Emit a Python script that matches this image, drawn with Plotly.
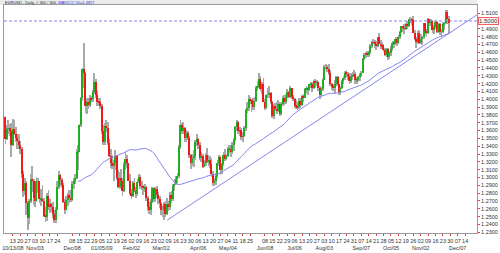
import numpy as np
import pandas as pd
import plotly.graph_objects as go

# ---------------- data (EURUSD daily, 300 bars) ----------------
START_DATE = "2008-10-06"

opens = [
 1.3770,1.3490,1.3620,1.3630,1.3590, 1.3410,1.3620,1.3550,1.3500,1.3470,
 1.3420,1.3370,1.3040,1.2830,1.2930, 1.2680,1.2480,1.2700,1.2970,1.2950,
 1.2740,1.2700,1.2950,1.2950,1.2720, 1.2730,1.2700,1.2510,1.2490,1.2760,
 1.2620,1.2660,1.2620,1.2530,1.2460, 1.2590,1.2880,1.3030,1.2970,1.2900,
 1.2690,1.2590,1.2710,1.2780,1.2740, 1.2710,1.2920,1.2960,1.2990,1.3320,
 1.3330,1.3670,1.4010,1.4380,1.4330, 1.3920,1.3970,1.3930,1.4010,1.4000,
 1.4090,1.4220,1.4060,1.3970,1.3960, 1.3920,1.3600,1.3450,1.3660,1.3630,
 1.3440,1.3280,1.3190,1.3150,1.3180, 1.3280,1.3000,1.2880,1.3000,1.2960,
 1.2830,1.3160,1.3240,1.3180,1.2960, 1.2800,1.2770,1.2930,1.2830,1.2790,
 1.2940,1.3010,1.2890,1.2880,1.2860, 1.2880,1.2740,1.2620,1.2590,1.2690,
 1.2860,1.2720,1.2850,1.2780,1.2730, 1.2670,1.2580,1.2580,1.2660,1.2530,
 1.2660,1.2620,1.2780,1.2730,1.2890, 1.2920,1.2980,1.3020,1.3390,1.3670,
 1.3590,1.3630,1.3500,1.3570,1.3510, 1.3290,1.3180,1.3250,1.3280,1.3460,
 1.3490,1.3410,1.3250,1.3280,1.3140, 1.3180,1.3290,1.3200,1.3230,1.3170,
 1.3040,1.2930,1.2950,1.3020,1.3190, 1.3260,1.3090,1.3170,1.3290,1.3240,
 1.3280,1.3360,1.3370,1.3320,1.3410, 1.3480,1.3640,1.3710,1.3590,1.3610,
 1.3520,1.3530,1.3630,1.3860,1.3890, 1.4000,1.3990,1.3940,1.3900,1.3980,
 1.4150,1.4160,1.4260,1.4130,1.4190, 1.3970,1.3890,1.4050,1.4050,1.4080,
 1.3970,1.3780,1.3910,1.3880,1.3850, 1.3940,1.3810,1.3940,1.4020,1.3970,
 1.4030,1.4090,1.4030,1.4140,1.4030, 1.4000,1.3920,1.3910,1.3900,1.3980,
 1.3930,1.4040,1.4020,1.4130,1.4140, 1.4120,1.4190,1.4200,1.4150,1.4230,
 1.4210,1.4220,1.4140,1.4060,1.4130, 1.4250,1.4410,1.4410,1.4390,1.4340,
 1.4190,1.4160,1.4140,1.4190,1.4290, 1.4190,1.4080,1.4150,1.4230,1.4270,
 1.4340,1.4320,1.4300,1.4230,1.4290, 1.4300,1.4320,1.4240,1.4250,1.4280,
 1.4310,1.4340,1.4520,1.4570,1.4580, 1.4570,1.4600,1.4680,1.4730,1.4720,
 1.4700,1.4680,1.4790,1.4710,1.4680, 1.4690,1.4630,1.4570,1.4640,1.4540,
 1.4590,1.4640,1.4720,1.4700,1.4770, 1.4720,1.4800,1.4860,1.4930,1.4910,
 1.4900,1.4960,1.4940,1.5020,1.5020, 1.5010,1.4850,1.4770,1.4730,1.4850,
 1.4720,1.4770,1.4800,1.4970,1.4870, 1.4850,1.5020,1.4970,1.5000,1.4880,
 1.4920,1.4990,1.4860,1.4960,1.4860, 1.4860,1.4960,1.4970,1.5120,1.5030,
]

highs = [
 1.3790,1.3670,1.3740,1.3690,1.3700, 1.3750,1.3740,1.3640,1.3560,1.3550,
 1.3470,1.3390,1.3080,1.2990,1.2960, 1.2700,1.2720,1.3040,1.3150,1.2980,
 1.2830,1.3010,1.3000,1.2960,1.2850, 1.2900,1.2740,1.2620,1.2800,1.2840,
 1.2730,1.2680,1.2690,1.2580,1.2620, 1.2950,1.3080,1.3040,1.3000,1.2930,
 1.2730,1.2760,1.2800,1.2840,1.2840, 1.2950,1.2990,1.3040,1.3370,1.3420,
 1.3690,1.4030,1.4400,1.4720,1.4350, 1.4020,1.4020,1.4060,1.4040,1.4120,
 1.4330,1.4260,1.4110,1.4010,1.4020, 1.3940,1.3670,1.3700,1.3730,1.3710,
 1.3490,1.3370,1.3290,1.3220,1.3350, 1.3290,1.3100,1.3070,1.3110,1.2990,
 1.3200,1.3330,1.3290,1.3190,1.3050, 1.2850,1.2960,1.2990,1.2880,1.2980,
 1.3050,1.3030,1.2950,1.2910,1.2920, 1.2890,1.2760,1.2690,1.2720,1.2880,
 1.2870,1.2880,1.2890,1.2820,1.2770, 1.2680,1.2640,1.2690,1.2700,1.2740,
 1.2700,1.2810,1.2830,1.2920,1.2980, 1.3020,1.3060,1.3420,1.3740,1.3700,
 1.3710,1.3640,1.3610,1.3600,1.3530, 1.3300,1.3300,1.3350,1.3480,1.3550,
 1.3510,1.3460,1.3320,1.3300,1.3230, 1.3310,1.3380,1.3290,1.3270,1.3250,
 1.3080,1.3000,1.3060,1.3230,1.3290, 1.3270,1.3190,1.3330,1.3360,1.3300,
 1.3390,1.3420,1.3410,1.3450,1.3500, 1.3660,1.3740,1.3720,1.3650,1.3630,
 1.3580,1.3660,1.3880,1.3960,1.4050, 1.4030,1.4000,1.4020,1.4030,1.4170,
 1.4230,1.4340,1.4300,1.4220,1.4270, 1.4000,1.4070,1.4150,1.4170,1.4090,
 1.3980,1.3940,1.3950,1.3960,1.3990, 1.3970,1.3970,1.4040,1.4050,1.4070,
 1.4130,1.4110,1.4170,1.4150,1.4060, 1.4010,1.3990,1.3960,1.4020,1.4010,
 1.4060,1.4070,1.4150,1.4170,1.4160, 1.4200,1.4220,1.4220,1.4250,1.4260,
 1.4250,1.4230,1.4170,1.4160,1.4270, 1.4440,1.4450,1.4440,1.4450,1.4370,
 1.4210,1.4190,1.4240,1.4300,1.4300, 1.4200,1.4170,1.4250,1.4300,1.4360,
 1.4370,1.4350,1.4330,1.4340,1.4350, 1.4370,1.4350,1.4290,1.4300,1.4340,
 1.4360,1.4530,1.4590,1.4600,1.4620, 1.4620,1.4700,1.4740,1.4770,1.4760,
 1.4740,1.4800,1.4840,1.4760,1.4730, 1.4710,1.4650,1.4660,1.4650,1.4620,
 1.4680,1.4740,1.4750,1.4790,1.4790, 1.4820,1.4870,1.4940,1.4940,1.4960,
 1.4970,1.5000,1.5030,1.5050,1.5040, 1.5060,1.4890,1.4800,1.4870,1.4880,
 1.4830,1.4810,1.4980,1.4980,1.4900, 1.5040,1.5030,1.5020,1.5010,1.4950,
 1.5010,1.5000,1.4980,1.4970,1.4900, 1.4990,1.4990,1.5140,1.5140,1.5060,
]

lows = [
 1.3430,1.3480,1.3560,1.3530,1.3260, 1.3400,1.3540,1.3460,1.3360,1.3360,
 1.3300,1.2990,1.2750,1.2780,1.2520, 1.2330,1.2400,1.2680,1.2820,1.2650,
 1.2620,1.2690,1.2800,1.2680,1.2640, 1.2690,1.2490,1.2430,1.2450,1.2580,
 1.2550,1.2560,1.2480,1.2420,1.2420, 1.2580,1.2850,1.2890,1.2870,1.2680,
 1.2540,1.2580,1.2630,1.2670,1.2690, 1.2700,1.2850,1.2920,1.2980,1.3100,
 1.3320,1.3650,1.3980,1.4140,1.3830, 1.3810,1.3870,1.3900,1.3970,1.3960,
 1.4070,1.4020,1.3920,1.3920,1.3870, 1.3550,1.3420,1.3420,1.3580,1.3410,
 1.3260,1.3120,1.3110,1.2960,1.3100, 1.2970,1.2860,1.2850,1.2920,1.2770,
 1.2820,1.3090,1.3120,1.2950,1.2780, 1.2720,1.2750,1.2810,1.2740,1.2770,
 1.2930,1.2850,1.2840,1.2780,1.2810, 1.2700,1.2570,1.2540,1.2520,1.2680,
 1.2690,1.2690,1.2740,1.2660,1.2610, 1.2520,1.2500,1.2460,1.2500,1.2520,
 1.2570,1.2590,1.2680,1.2700,1.2830, 1.2900,1.2930,1.2990,1.3360,1.3550,
 1.3560,1.3450,1.3450,1.3480,1.3250, 1.3110,1.3150,1.3140,1.3230,1.3400,
 1.3360,1.3220,1.3200,1.3120,1.3130, 1.3150,1.3180,1.3150,1.3120,1.3010,
 1.2890,1.2890,1.2900,1.3000,1.3150, 1.3030,1.3050,1.3150,1.3210,1.3220,
 1.3260,1.3310,1.3260,1.3300,1.3340, 1.3470,1.3590,1.3560,1.3530,1.3480,
 1.3450,1.3520,1.3600,1.3820,1.3850, 1.3940,1.3840,1.3860,1.3860,1.3960,
 1.4100,1.4150,1.4100,1.4070,1.3960, 1.3860,1.3880,1.4010,1.4020,1.3940,
 1.3760,1.3750,1.3850,1.3810,1.3840, 1.3790,1.3800,1.3920,1.3930,1.3940,
 1.4020,1.4010,1.4020,1.4000,1.3980, 1.3890,1.3880,1.3860,1.3880,1.3890,
 1.3910,1.3960,1.4010,1.4080,1.4060, 1.4100,1.4140,1.4090,1.4130,1.4150,
 1.4170,1.4110,1.4000,1.4040,1.4100, 1.4240,1.4370,1.4350,1.4310,1.4170,
 1.4120,1.4110,1.4080,1.4170,1.4170, 1.4050,1.4060,1.4130,1.4200,1.4250,
 1.4280,1.4250,1.4200,1.4210,1.4250, 1.4280,1.4200,1.4190,1.4220,1.4230,
 1.4290,1.4330,1.4500,1.4530,1.4540, 1.4540,1.4580,1.4650,1.4700,1.4660,
 1.4630,1.4670,1.4700,1.4640,1.4640, 1.4600,1.4550,1.4540,1.4500,1.4520,
 1.4550,1.4620,1.4660,1.4690,1.4680, 1.4710,1.4770,1.4840,1.4860,1.4830,
 1.4880,1.4900,1.4920,1.4970,1.4950, 1.4840,1.4760,1.4660,1.4710,1.4700,
 1.4710,1.4690,1.4770,1.4820,1.4800, 1.4830,1.4940,1.4940,1.4840,1.4830,
 1.4900,1.4850,1.4840,1.4820,1.4800, 1.4850,1.4880,1.4960,1.4960,1.4830,
]

closes = [
 1.3490,1.3620,1.3630,1.3590,1.3410, 1.3620,1.3550,1.3500,1.3470,1.3420,
 1.3370,1.3040,1.2830,1.2930,1.2680, 1.2480,1.2700,1.2970,1.2950,1.2740,
 1.2700,1.2950,1.2950,1.2720,1.2730, 1.2700,1.2510,1.2490,1.2760,1.2620,
 1.2660,1.2620,1.2530,1.2460,1.2590, 1.2880,1.3030,1.2970,1.2900,1.2690,
 1.2590,1.2710,1.2780,1.2740,1.2710, 1.2920,1.2960,1.2990,1.3320,1.3330,
 1.3670,1.4010,1.4380,1.4330,1.3920, 1.3970,1.3930,1.4010,1.4000,1.4090,
 1.4220,1.4060,1.3970,1.3960,1.3920, 1.3600,1.3450,1.3660,1.3630,1.3440,
 1.3280,1.3190,1.3150,1.3180,1.3280, 1.3000,1.2880,1.3000,1.2960,1.2830,
 1.3160,1.3240,1.3180,1.2960,1.2800, 1.2770,1.2930,1.2830,1.2790,1.2940,
 1.3010,1.2890,1.2880,1.2860,1.2880, 1.2740,1.2620,1.2590,1.2690,1.2860,
 1.2720,1.2850,1.2780,1.2730,1.2670, 1.2580,1.2580,1.2660,1.2530,1.2660,
 1.2620,1.2780,1.2730,1.2890,1.2920, 1.2980,1.3020,1.3390,1.3670,1.3590,
 1.3630,1.3500,1.3570,1.3510,1.3290, 1.3180,1.3250,1.3280,1.3460,1.3490,
 1.3410,1.3250,1.3280,1.3140,1.3180, 1.3290,1.3200,1.3230,1.3170,1.3040,
 1.2930,1.2950,1.3020,1.3190,1.3260, 1.3090,1.3170,1.3290,1.3240,1.3280,
 1.3360,1.3370,1.3320,1.3410,1.3480, 1.3640,1.3710,1.3590,1.3610,1.3520,
 1.3530,1.3630,1.3860,1.3890,1.4000, 1.3990,1.3940,1.3900,1.3980,1.4150,
 1.4160,1.4260,1.4130,1.4190,1.3970, 1.3890,1.4050,1.4050,1.4080,1.3970,
 1.3780,1.3910,1.3880,1.3850,1.3940, 1.3810,1.3940,1.4020,1.3970,1.4030,
 1.4090,1.4030,1.4140,1.4030,1.4000, 1.3920,1.3910,1.3900,1.3980,1.3930,
 1.4040,1.4020,1.4130,1.4140,1.4120, 1.4190,1.4200,1.4150,1.4230,1.4210,
 1.4220,1.4140,1.4060,1.4130,1.4250, 1.4410,1.4410,1.4390,1.4340,1.4190,
 1.4160,1.4140,1.4190,1.4290,1.4190, 1.4080,1.4150,1.4230,1.4270,1.4340,
 1.4320,1.4300,1.4230,1.4290,1.4300, 1.4320,1.4240,1.4250,1.4280,1.4310,
 1.4340,1.4520,1.4570,1.4580,1.4570, 1.4600,1.4680,1.4730,1.4720,1.4700,
 1.4680,1.4790,1.4710,1.4680,1.4690, 1.4630,1.4570,1.4640,1.4540,1.4590,
 1.4640,1.4720,1.4700,1.4770,1.4720, 1.4800,1.4860,1.4930,1.4910,1.4900,
 1.4960,1.4940,1.5020,1.5020,1.5010, 1.4850,1.4770,1.4730,1.4850,1.4720,
 1.4770,1.4800,1.4970,1.4870,1.4850, 1.5020,1.4970,1.5000,1.4880,1.4920,
 1.4990,1.4860,1.4960,1.4860,1.4860, 1.4960,1.4970,1.5120,1.5030,1.4980,
]

# weekly (Monday) tick labels and month captions
WEEK_TICKS = [
 "2008-10-13","2008-10-20","2008-10-27","2008-11-03","2008-11-10","2008-11-17","2008-11-24",
 "2008-12-08","2008-12-15","2008-12-22","2008-12-29","2009-01-05","2009-01-12","2009-01-19",
 "2009-01-26","2009-02-02","2009-02-09","2009-02-16","2009-02-23","2009-03-02","2009-03-09",
 "2009-03-16","2009-03-23","2009-03-30","2009-04-06","2009-04-13","2009-04-20","2009-04-27",
 "2009-05-04","2009-05-11","2009-05-18","2009-05-25","2009-06-08","2009-06-15","2009-06-22",
 "2009-06-29","2009-07-06","2009-07-13","2009-07-20","2009-07-27","2009-08-03","2009-08-10",
 "2009-08-17","2009-08-24","2009-08-31","2009-09-07","2009-09-14","2009-09-21","2009-09-28",
 "2009-10-05","2009-10-12","2009-10-19","2009-10-26","2009-11-02","2009-11-09","2009-11-16",
 "2009-11-23","2009-11-30","2009-12-07","2009-12-14",
]
MONTH_LABELS = {
 "2008-10-13": "10/13/08", "2008-11-03": "Nov/03", "2008-12-08": "Dec/08",
 "2009-01-05": "01/05/09", "2009-02-02": "Feb/02", "2009-03-02": "Mar/02",
 "2009-04-06": "Apr/06", "2009-05-04": "May/04", "2009-06-08": "Jun/08",
 "2009-07-06": "Jul/06", "2009-08-03": "Aug/03", "2009-09-07": "Sep/07",
 "2009-10-05": "Oct/05", "2009-11-02": "Nov/02", "2009-12-07": "Dec/07",
}

H_LINE_LEVEL = 1.5000
TREND_DATES = ["2009-03-06", "2009-12-24"]
TREND_PRICES = [1.2454, 1.5079]
MA_PERIOD = 50
TITLE_MAIN = "EURUSD , Daily, # 300 / 300, "
TITLE_MA = "MAV(C1) 50=1.4827"

Y_TICKS = [round(1.23 + 0.01 * k, 2) for k in range(29)]

# ---------------- build ----------------
n = len(closes)
idx = np.arange(n)
o = np.array(opens); h = np.array(highs); l = np.array(lows); c = np.array(closes)


def bar_pos(d):
    return int(np.busday_count(np.datetime64(START_DATE), np.datetime64(d)))


ma = pd.Series(c).rolling(MA_PERIOD).mean()

GREEN = "#1fae1f"
RED = "#f01818"
BLUE = "#8484f0"

fig = go.Figure()
fig.add_trace(go.Bar(x=idx, base=l, y=h - l, width=0.55,
                     marker=dict(color="#a8a8a8", line=dict(width=0)),
                     hoverinfo="skip"))
body_colors = [GREEN if cc >= oo else RED for oo, cc in zip(o, c)]
fig.add_trace(go.Bar(x=idx, base=o, y=c - o, width=0.8,
                     marker=dict(color=body_colors, line=dict(width=0)),
                     hoverinfo="skip"))
fig.add_trace(go.Scatter(x=idx, y=ma, mode="lines",
                         line=dict(color=BLUE, width=1)))
fig.add_trace(go.Scatter(x=[bar_pos(d) for d in TREND_DATES], y=TREND_PRICES,
                         mode="lines", line=dict(color=BLUE, width=1)))

tickvals = [bar_pos(d) for d in WEEK_TICKS]
ticktext = []
for d in WEEK_TICKS:
    day = d[-2:]
    ticktext.append(day + ("<br>" + MONTH_LABELS[d] if d in MONTH_LABELS else ""))

fig.add_shape(type="line", xref="paper", x0=0, x1=1.03, yref="y",
              y0=H_LINE_LEVEL, y1=H_LINE_LEVEL,
              line=dict(color=BLUE, width=1, dash="3px,2px"))
fig.add_annotation(xref="paper", x=1.0, xanchor="left", yref="y", y=H_LINE_LEVEL,
                   text="%.4f" % H_LINE_LEVEL, showarrow=False,
                   font=dict(size=6, color="#333333", family="Liberation Sans"),
                   bgcolor="#fff4f4", bordercolor="#f06060", borderwidth=1, borderpad=0,
                   xshift=1)
# header strip
fig.add_shape(type="rect", xref="paper", yref="paper", x0=-0.01, x1=1.0,
              y0=1.0, y1=1.03, fillcolor="#ebebeb", line=dict(width=0), layer="below")
fig.add_annotation(xref="paper", yref="paper", x=0, y=1.0 + 2.5 / 233,
                   xanchor="left", yanchor="middle",
                   text=TITLE_MAIN + "<span style='color:#3030e0'>" + TITLE_MA + "</span>",
                   showarrow=False, borderpad=0,
                   font=dict(size=4, color="#222222", family="Liberation Sans"))

fig.update_layout(
    width=500, height=253,
    margin=dict(l=2, r=16, t=5, b=15),
    paper_bgcolor="white", plot_bgcolor="white",
    showlegend=False, barmode="overlay", bargap=0,
    xaxis=dict(range=[-0.96, 318.0], tickmode="array", tickvals=tickvals, ticktext=ticktext,
               ticks="outside", ticklen=2, tickcolor="#e04040", tickwidth=1,
               tickfont=dict(size=5.5, color="#333333", family="Liberation Sans"),
               showgrid=False, zeroline=False, showline=True, linecolor="#9a9a9a",
               linewidth=1, mirror=True, tickangle=0),
    yaxis=dict(range=[1.2291, 1.5204], side="right", tickmode="array",
               tickvals=[v for v in Y_TICKS if abs(v - H_LINE_LEVEL) > 1e-9],
               ticktext=["%.4f" % v for v in Y_TICKS if abs(v - H_LINE_LEVEL) > 1e-9],
               ticks="outside", ticklen=2, tickcolor="#e04040", tickwidth=1,
               tickfont=dict(size=5.5, color="#333333", family="Liberation Sans"),
               showgrid=False, zeroline=False, showline=True, linecolor="#9a9a9a",
               linewidth=1, mirror=True),
)

fig.write_html("out.html")
